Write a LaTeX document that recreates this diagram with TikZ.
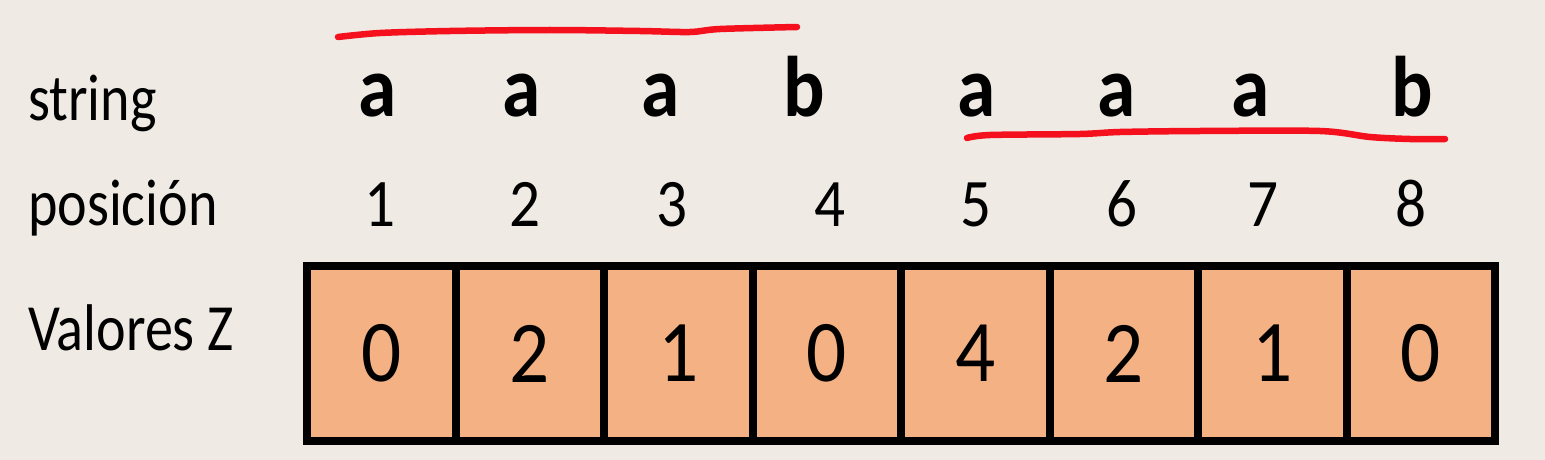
\documentclass[tikz,border=0pt]{standalone}
\usepackage{fontspec}
\setmainfont{Carlito}
\definecolor{bgcol}{HTML}{EFEBE4}
\definecolor{cellfill}{HTML}{F4B183}
\definecolor{inkred}{HTML}{F5101E}
\newcommand{\sqz}[1]{\scalebox{0.85}[1]{#1}}
\newcommand{\sqd}[1]{\scalebox{0.9}[1]{#1}}
\begin{document}
\begin{tikzpicture}[x=1pt,y=-1pt,
  rowlabel/.style={anchor=base west, inner sep=0pt, font=\fontsize{66}{78}\selectfont},
  strch/.style={anchor=base, inner sep=0pt, font=\fontsize{86}{100}\selectfont\bfseries},
  posnum/.style={anchor=base, inner sep=0pt, font=\fontsize{68}{80}\selectfont},
  cell/.style={draw=black, line width=8pt, fill=cellfill, minimum width=148.5pt,
    minimum height=175pt, inner sep=0pt, anchor=center, font=\fontsize{88}{100}\selectfont},
  redstroke/.style={draw=inkred, line width=6.5pt, line cap=round, line join=round}]
\fill[bgcol] (0,0) rectangle (1545,460);
\useasboundingbox (0,0) rectangle (1545,460);

% row labels
\node[rowlabel] (lstr) at (28,120) {\sqz{string}};
\node[rowlabel] (lpos) at (28,225) {\sqz{posición}};
\node[rowlabel] (lval) at (28,350) {\sqz{Valores Z}};

% string characters
\node[strch] (s1) at (378,117) {\sqd{a}};
\node[strch] (s2) at (522,117) {\sqd{a}};
\node[strch] (s3) at (661,117) {\sqd{a}};
\node[strch] (s4) at (804,117) {\sqd{b}};
\node[strch] (s5) at (977,117) {\sqd{a}};
\node[strch] (s6) at (1117,117) {\sqd{a}};
\node[strch] (s7) at (1251,117) {\sqd{a}};
\node[strch] (s8) at (1412,117) {\sqd{b}};

% positions
\node[posnum] (p1) at (380,226) {\sqd{1}};
\node[posnum] (p2) at (525,226) {\sqd{2}};
\node[posnum] (p3) at (672,226) {\sqd{3}};
\node[posnum] (p4) at (830,226) {\sqd{4}};
\node[posnum] (p5) at (976,226) {\sqd{5}};
\node[posnum] (p6) at (1122,226) {\sqd{6}};
\node[posnum] (p7) at (1263,226) {\sqd{7}};
\node[posnum] (p8) at (1411,226) {\sqd{8}};

% Z values
\node[cell] (z1) at (381.25,353.5) {\sqd{0}};
\node[cell] (z2) at (529.75,353.5) {\sqd{2}};
\node[cell] (z3) at (678.25,353.5) {\sqd{1}};
\node[cell] (z4) at (826.75,353.5) {\sqd{0}};
\node[cell] (z5) at (975.25,353.5) {\sqd{4}};
\node[cell] (z6) at (1123.75,353.5) {\sqd{2}};
\node[cell] (z7) at (1272.25,353.5) {\sqd{1}};
\node[cell] (z8) at (1420.75,353.5) {\sqd{0}};

% red hand-drawn strokes
\draw[redstroke] plot[smooth] coordinates {(338,37) (380,33) (450,31) (550,30) (640,31) (690,32) (720,29) (797,27)};
\draw[redstroke] plot[smooth] coordinates {(967,138) (990,135) (1080,134) (1120,132) (1200,131) (1320,131) (1370,137) (1410,139) (1445,139)};
\end{tikzpicture}
\end{document}
